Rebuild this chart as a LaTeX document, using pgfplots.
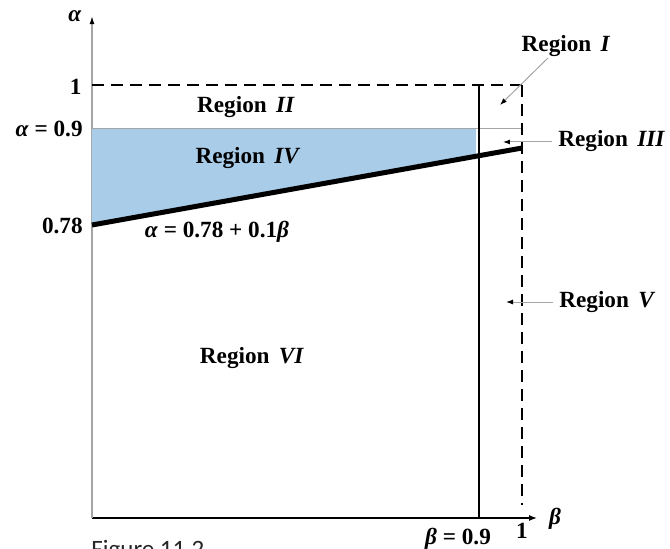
\documentclass[border=0pt]{standalone}
\usepackage{fontspec}
\setmainfont{Liberation Serif}
\newfontfamily\figfont{Carlito}
\usepackage{pgfplots}
\pgfplotsset{compat=1.18}
\usetikzlibrary{arrows.meta}
\definecolor{regblue}{RGB}{169,205,233}
\definecolor{axgray}{RGB}{165,165,165}
\begin{document}
\begin{tikzpicture}[font=\fontsize{11.6}{13}\selectfont\bfseries]
\begin{axis}[
  x=215pt, y=216.5pt,
  xmin=0, xmax=1.035, ymin=0, ymax=1.159,
  axis lines=left,
  x axis line style={black, line width=0.7pt, -{Latex[length=4pt,width=3pt]}},
  y axis line style={axgray, line width=0.6pt, -{Latex[length=4pt,width=2.5pt,color=black]}},
  xtick=\empty, ytick=\empty,
  clip=false,
]
% shaded region IV
\addplot[fill=regblue, draw=none] coordinates {(0,0.9) (0.893,0.9) (0.893,0.8355) (0,0.6767)} -- cycle;
% alpha = 0.9 line
\addplot[axgray, line width=0.6pt] coordinates {(0,0.9) (1,0.9)};
% alpha = 1 dashed
\addplot[black, line width=0.8pt, dash pattern=on 6pt off 3.5pt] coordinates {(0,1) (1,1)};
% beta = 1 dashed
\addplot[black, line width=1pt, dash pattern=on 6pt off 3.5pt] coordinates {(1,1) (1,0.03)};
% beta = 0.9 solid
\addplot[black, line width=0.6pt] coordinates {(0.9,1) (0.9,0)};
% alpha = 0.78 + 0.1 beta
\addplot[black, line width=2.5pt] coordinates {(0,0.6767) (1,0.8545)};

% annotation arrows
\draw[axgray, line width=0.5pt, -{Latex[length=3.5pt,width=2.5pt,color=black]}] (axis cs:1.0605,1.0624) -- (axis cs:0.9488,0.9538);
\draw[axgray, line width=0.5pt, -{Latex[length=3.5pt,width=2.5pt,color=black]}] (axis cs:1.0698,0.8684) -- (axis cs:0.9558,0.8684);
\draw[axgray, line width=0.5pt, -{Latex[length=3.5pt,width=2.5pt,color=black]}] (axis cs:1.0721,0.4988) -- (axis cs:0.9628,0.4988);

% axis labels
\node at (axis cs:-0.0395,1.1594) {\textit{α}};
\node at (axis cs:1.0767,-0.0023) {\textit{β}};
\node[anchor=east, inner sep=0pt] at (axis cs:-0.0233,0.9954) {1};
\node[anchor=east, inner sep=0pt] at (axis cs:-0.0209,0.8984) {\textit{α} = 0.9};
\node[anchor=east, inner sep=0pt] at (axis cs:-0.0209,0.6744) {0.78};
\node at (axis cs:0.8512,-0.0485) {\textit{β} = 0.9};
\node at (axis cs:1.0,-0.0300) {1};
\node at (axis cs:0.2907,0.6605) {\textit{α} = 0.78 + 0.1\textit{β}};

% region labels
\node at (axis cs:0.3581,0.9492) {Region\hspace{0.4em}\textit{II}};
\node at (axis cs:0.3628,0.8314) {Region\hspace{0.4em}\textit{IV}};
\node at (axis cs:0.3721,0.3695) {Region\hspace{0.4em}\textit{VI}};
\node at (axis cs:1.1023,1.0901) {Region\hspace{0.4em}\textit{I}};
\node[anchor=west, inner sep=0pt] at (axis cs:1.0837,0.8707) {Region\hspace{0.4em}\textit{III}};
\node[anchor=west, inner sep=0pt] at (axis cs:1.0860,0.4988) {Region\hspace{0.4em}\textit{V}};

% caption (cut off at the bottom edge, as in the reference)
\node[anchor=north west, inner sep=0pt, font=\figfont\fontsize{12.5}{14}\selectfont, text=black!85] at (axis cs:-0.0023,-0.0508) {Figure 11.2};

\coordinate (bl) at (axis cs:-0.21395,-0.069284);
\coordinate (tr) at (axis cs:1.34419,1.196305);
\end{axis}
\pgfresetboundingbox
\useasboundingbox (bl) rectangle (tr);
\end{tikzpicture}
\end{document}
